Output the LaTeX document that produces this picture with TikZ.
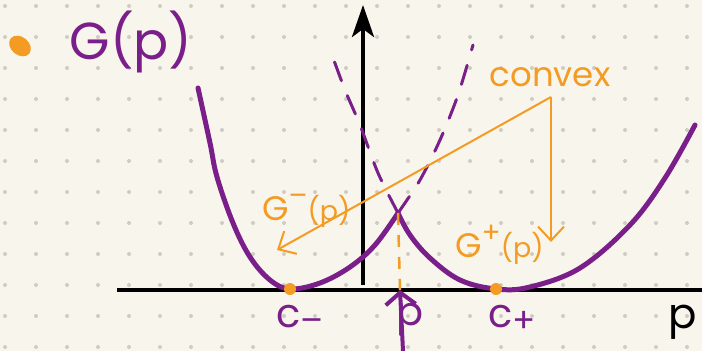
\documentclass[tikz,border=0pt]{standalone}
\usepackage{fontspec}
\setmainfont{Poppins}
\usetikzlibrary{arrows.meta}
\definecolor{paper}{HTML}{F8F6EC}
\definecolor{dotgrey}{HTML}{CFCCC4}
\definecolor{ink}{HTML}{7A1E8A}
\definecolor{marker}{HTML}{F49B24}
\newcommand{\hsub}[1]{{\fontsize{34}{34}\selectfont\raisebox{-5pt}{#1}}}
\newcommand{\hsup}[1]{{\fontsize{28}{28}\selectfont\raisebox{15pt}{#1}}}
\newcommand{\harg}{{\fontsize{27}{27}\selectfont(p)}}

\begin{document}
\begin{tikzpicture}[x=1pt, y=-1pt,
		curve/.style = {ink, line width=5pt, line cap=round, line join=round},
		branch/.style = {ink, line width=3pt, line cap=round, dash pattern=on 20pt off 16pt},
		axis/.style = {black, line width=4pt},
		hint/.style = {marker, line width=2pt, -{Straight Barb[length=14pt, width=26pt]}},
		lbl/.style = {inner sep=0pt, text=ink},
		note/.style = {inner sep=0pt, text=marker}
		]
		
		%Paper
		\fill[paper] (0,0) rectangle (702,351);
		\useasboundingbox (0,0) rectangle (702,351);
		\foreach \i in {0,...,22}
			\foreach \j in {0,...,11}
				\fill[dotgrey] (5+31*\i, 6+31*\j) circle (2pt);
		
		%Axes
		\draw[axis]	(117,290) -- (702,290);
		\draw[axis, -{Stealth[length=32pt, width=22pt, inset=8pt]}]	(363,285) -- (363,5);
		\node[inner sep=0pt, anchor=base west, font=\fontsize{42}{42}\selectfont]	(paxis)	at	(668,328)	{p};
		
		%Title
		\fill[marker, rotate around={-40:(20,46)}]	(20,46) ellipse (12pt and 9pt);
		\node[lbl, font=\fontsize{52}{52}\selectfont]	(title)	at	(131,42)	{G(p)};
		
		%Coordinates
		\coordinate	(cusp)	at	(398,213);
		\coordinate	(foot)	at	(400,290);
		\coordinate	(cm)	at	(290,289);
		\coordinate	(cp)	at	(496,289);
		\coordinate	(fork)	at	(551,97);
		\coordinate	(tipminus)	at	(277,250);
		\coordinate	(tipplus)	at	(551,242);
		
		%Curves
		\draw[curve]	plot[smooth, tension=0.6] coordinates {(198,88) (210,143) (217,177) (233,223) (250,257) (270,280) (cm) (320,283) (350,267) (375,245) (cusp)};
		\draw[curve]	plot[smooth, tension=0.6] coordinates {(cusp) (410,235) (430,258) (460,280) (cp) (530,287) (580,268) (630,225) (665,178) (695,125)};
		\draw[branch]	plot[smooth] coordinates {(cusp) (420,180) (440,140) (458,95) (473,45)};
		\draw[branch]	plot[smooth] coordinates {(cusp) (378,173) (360,125) (345,90) (332,55)};
		\draw[marker, line width=2.5pt, dash pattern=on 12pt off 10pt]	(cusp) -- (foot);
		
		%Minima
		\fill[marker]	(cm) circle (6pt);
		\fill[marker]	(cp) circle (6pt);
		\node[lbl, anchor=base west, font=\fontsize{40}{40}\selectfont]	(cminus)	at	(276,327)	{c\hsub{–}};
		\node[lbl, anchor=base west, font=\fontsize{40}{40}\selectfont]	(cplus)	at	(488,327)	{c\hsub{+}};
		
		%Crossing point
		\draw[ink, line width=4pt, line cap=round, -{Straight Barb[length=12pt, width=30pt]}]	(403,351) -- (foot);
		\node[lbl, anchor=base west, font=\fontsize{40}{40}\selectfont]	(pcross)	at	(396,325)	{p};
		
		%Convex
		\node[note, anchor=base, font=\fontsize{34}{34}\selectfont]	(convex)	at	(550,86)	{convex};
		\draw[hint]	(fork) -- (tipminus);
		\draw[hint]	(fork) -- (tipplus);
		\node[note, anchor=base west, font=\fontsize{34}{34}\selectfont]	(gminus)	at	(262,220)	{G\hsup{–}\harg};
		\node[note, anchor=base west, font=\fontsize{34}{34}\selectfont]	(gplus)	at	(455,257)	{G\hsup{+}\harg};
	\end{tikzpicture}
\end{document}
